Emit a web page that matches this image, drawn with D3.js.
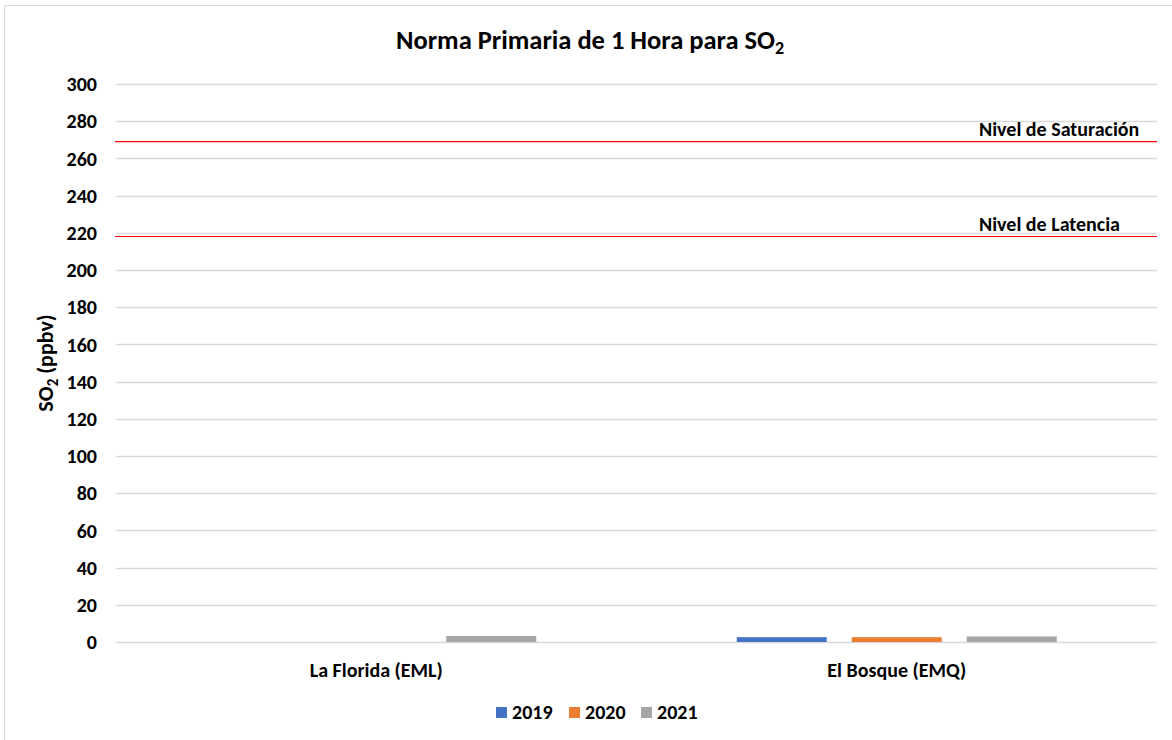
<!DOCTYPE html>
<html>
<head>
<meta charset="utf-8">
<script src="https://cdn.jsdelivr.net/npm/d3@7"></script>
<style>
  html, body { margin: 0; padding: 0; background: #fff; }
  svg { display: block; font-family: Carlito, Calibri, Lato, sans-serif; }
</style>
</head>
<body>
<svg id="chart" width="1172" height="740"></svg>
<script>
// ---- data ----
const categories = ["La Florida (EML)", "El Bosque (EMQ)"];
const years = ["2019", "2020", "2021"];
const values2019 = [null, 2.6];
const values2020 = [null, 2.6];
const values2021 = [3.2, 3.0];
const yTickValues = [0, 20, 40, 60, 80, 100, 120, 140, 160, 180, 200, 220, 240, 260, 280, 300];
const refValues = [269, 218];
const refLabels = ["Nivel de Saturación", "Nivel de Latencia"];
const seriesColors = ["#4472C4", "#ED7D31", "#A5A5A5"];

const seriesValues = [values2019, values2020, values2021];

// ---- layout ----
const FONT = 'Carlito, Calibri, Lato, sans-serif';
const svg = d3.select("#chart");
const W = 1172, H = 740;
const plot = { left: 116, right: 1157, top: 84, bottom: 642 };

// chart border
svg.append("rect")
  .attr("x", 4.5).attr("y", 5.5)
  .attr("width", W + 10).attr("height", H + 10)
  .attr("fill", "#fff").attr("stroke", "#D9D9D9").attr("stroke-width", 1);

const x0 = d3.scaleBand().domain(categories).range([plot.left, plot.right]).padding(0);
const groupOffset = x0.bandwidth() * (100.25 / 520.5);
const x1 = d3.scaleBand().domain(years)
  .range([groupOffset, x0.bandwidth() - groupOffset])
  .paddingInner(25 / 115).paddingOuter(0);
const y = d3.scaleLinear().domain([0, 300]).range([plot.bottom, plot.top]);

// gridlines
svg.append("g").selectAll("line").data(yTickValues).join("line")
  .attr("x1", plot.left).attr("x2", plot.right)
  .attr("y1", d => Math.round(y(d)) + 0.5).attr("y2", d => Math.round(y(d)) + 0.5)
  .attr("stroke", "#D9D9D9").attr("stroke-width", 1.3);

// y axis labels
const yAxis = d3.axisLeft(y).tickValues(yTickValues).tickSize(0).tickPadding(0);
const gy = svg.append("g").attr("transform", `translate(97,0)`).call(yAxis);
gy.select(".domain").remove();
gy.selectAll("text")
  .attr("font-family", FONT)
  .attr("font-size", 20).attr("font-weight", "bold").attr("fill", "#000")
  .attr("dy", "0.33em");

// bars
const barData = [];
categories.forEach((c, ci) => {
  years.forEach((yr, si) => {
    const v = seriesValues[si][ci];
    if (v != null) barData.push({ cat: c, year: yr, value: v, color: seriesColors[si] });
  });
});
svg.append("g").selectAll("rect").data(barData).join("rect")
  .attr("x", d => x0(d.cat) + x1(d.year))
  .attr("width", x1.bandwidth())
  .attr("y", d => y(d.value))
  .attr("height", d => y(0) - y(d.value))
  .attr("fill", d => d.color);

// reference lines
svg.append("g").selectAll("line").data(refValues).join("line")
  .attr("x1", plot.left - 1).attr("x2", plot.right)
  .attr("y1", d => y(d)).attr("y2", d => y(d))
  .attr("stroke", "#FF0000").attr("stroke-width", 1.2);
svg.append("g").selectAll("text").data(refValues).join("text")
  .attr("x", 979).attr("y", d => y(d) - 6)
  .attr("font-size", 20).attr("font-weight", "bold").attr("fill", "#000")
  .text((d, i) => refLabels[i]);

// x axis labels
const xAxis = d3.axisBottom(x0).tickSize(0).tickPadding(0);
const gx = svg.append("g").attr("transform", `translate(0,${plot.bottom})`).call(xAxis);
gx.select(".domain").remove();
gx.selectAll("text")
  .attr("font-family", FONT)
  .attr("font-size", 20).attr("font-weight", "bold").attr("fill", "#000")
  .attr("y", 35).attr("dy", 0);

// title
const title = svg.append("text")
  .attr("x", 590).attr("y", 49)
  .attr("text-anchor", "middle")
  .attr("font-size", 26.5).attr("font-weight", "bold").attr("fill", "#000");
title.append("tspan").text("Norma Primaria de 1 Hora para SO");
title.append("tspan").attr("font-size", 18).attr("dy", 5).text("2");

// y axis title
const yt = svg.append("text")
  .attr("transform", `translate(53,363) rotate(-90)`)
  .attr("text-anchor", "middle")
  .attr("font-size", 22).attr("font-weight", "bold").attr("fill", "#000");
yt.append("tspan").text("SO");
yt.append("tspan").attr("font-size", 15).attr("dy", 5).text("2");
yt.append("tspan").attr("dy", -5).text(" (ppbv)");

// legend
const legendX = [496, 569, 641];
const lg = svg.append("g").selectAll("g").data(years).join("g")
  .attr("transform", (d, i) => `translate(${legendX[i]},707)`);
lg.append("rect").attr("width", 11).attr("height", 11).attr("fill", (d, i) => seriesColors[i]);
lg.append("text").attr("x", 16).attr("y", 12)
  .attr("font-size", 20).attr("font-weight", "bold").attr("fill", "#000")
  .text(d => d);
</script>
</body>
</html>
